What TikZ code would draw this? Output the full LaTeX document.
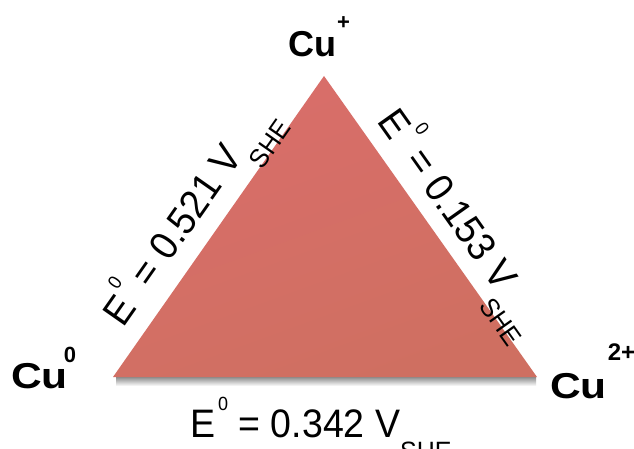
\documentclass[tikz,border=0pt]{standalone}
\usepackage{fontspec}
\setmainfont{Liberation Sans}
\definecolor{tritop}{RGB}{217,110,106}
\definecolor{tribot}{RGB}{207,111,97}
\newcommand\epot[1]{\scalebox{1}[1.06]{E\kern3pt\raisebox{25pt}{\fontsize{18}{18}\selectfont 0} = #1 V\raisebox{-22pt}{\fontsize{25}{25}\selectfont SHE}}}
\newcommand\cuion[5]{\scalebox{#4}[1]{Cu}\kern#2\raisebox{#3}{\fontsize{#5}{#5}\selectfont #1}}
\tikzset{
  eqlabel/.style={inner sep=0pt, anchor=base west, font=\fontsize{37.5}{40}\selectfont},
  culabel/.style={inner sep=0pt, anchor=base west, font=\fontsize{36}{40}\selectfont\bfseries},
}
\begin{document}
\begin{tikzpicture}[x=1pt,y=1pt]
\useasboundingbox (0,0) rectangle (634,448);
\fill[white] (0,0) rectangle (634,448);
% shadow
\shade[top color=black!45, bottom color=white] (116,62) rectangle (536,71);
% triangle
\coordinate (apex) at (324,372);
\coordinate (bl) at (113,71);
\coordinate (br) at (537,71);
\shade[top color=tritop, bottom color=tribot, shading angle=20] (apex) -- (br) -- (bl) -- cycle;
% vertex labels
\node[culabel] (cuplus) at (288,391) {\cuion{+}{1pt}{27pt}{1}{22}};
\node[culabel] (cuzero) at (11,60) {\cuion{0}{-4pt}{26pt}{1.18}{22}};
\node[culabel] (cutwo) at (550,50) {\cuion{2+}{1pt}{38pt}{1.18}{24}};
% edge labels
\node[eqlabel, rotate=54.97] (eleft) at (123,119) {\epot{0.521}};
\node[eqlabel, rotate=-54.71] (eright) at (376,327) {\epot{0.153}};
\node[eqlabel] (ebot) at (190,11) {\epot{0.342}};
\end{tikzpicture}
\end{document}
